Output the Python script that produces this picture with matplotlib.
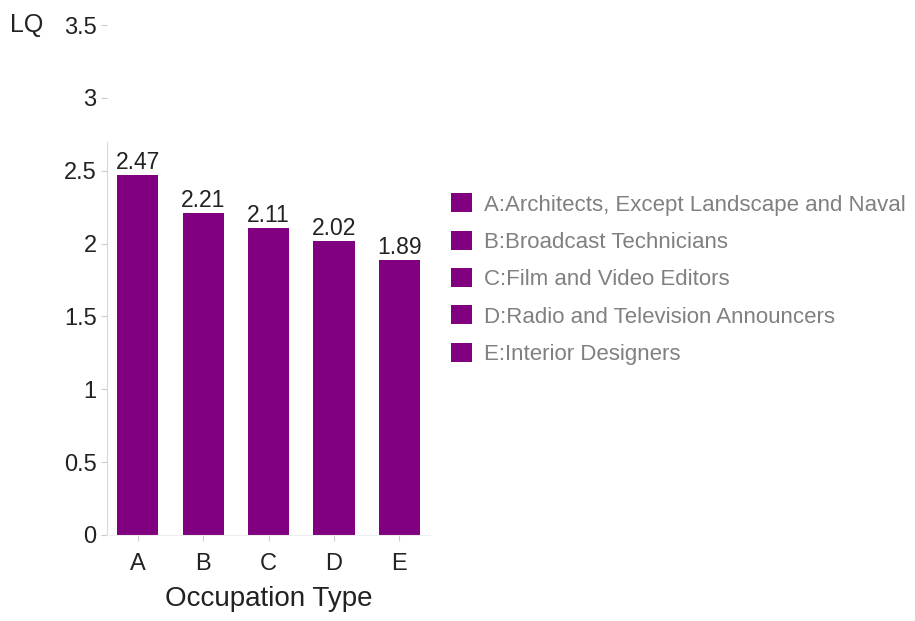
import matplotlib.pyplot as plt

plt.rcParams['font.family'] = ['Liberation Sans', 'DejaVu Sans']

# occupation codes, full names and location quotients
codes = ['A', 'B', 'C', 'D', 'E']
names = ['Architects, Except Landscape and Naval',
         'Broadcast Technicians',
         'Film and Video Editors',
         'Radio and Television Announcers',
         'Interior Designers']
lq = [2.47, 2.21, 2.11, 2.02, 1.89]
y_ticks = [0, 0.5, 1, 1.5, 2, 2.5, 3, 3.5]

fig = plt.figure(figsize=(9.15, 6.21), dpi=100)
ax = fig.add_axes([0.117, 0.1385, 0.353, 0.8212])

bar_color = '#800080'
bars = ax.bar(range(len(codes)), lq, width=0.63, color=bar_color)

# value labels on top of each bar
for i, v in enumerate(lq):
    ax.text(i, v + 0.005, f'{v:.2f}', ha='center', va='bottom',
            fontsize=16.5, color='#222222')

ax.set_xlim(-0.47, 4.47)
ax.set_ylim(0, 3.5)
ax.set_yticks(y_ticks)
ax.set_yticklabels([f'{t:g}' for t in y_ticks])
ax.set_xticks(range(len(codes)))
ax.set_xticklabels(codes)
ax.tick_params(axis='both', labelsize=17, colors='#cccccc',
               labelcolor='#222222', length=4, width=0.8)
ax.tick_params(axis='x', pad=9)

for s in ['top', 'right']:
    ax.spines[s].set_visible(False)
ax.spines['left'].set_color('#d8d8d8')
ax.spines['left'].set_bounds(0, 2.7)
ax.spines['bottom'].set_color('#eeeeee')

ax.set_xlabel('Occupation Type', fontsize=20, color='#222222', labelpad=8)
fig.text(0.011, ax.transData.transform((0, 3.5))[1] / fig.bbox.height, 'LQ',
         fontsize=18, color='#222222', va='center', ha='left')

# legend with code:name entries
leg = fig.legend(bars, [f'{c}:{n}' for c, n in zip(codes, names)],
                 loc='upper left', bbox_to_anchor=(0.483, 0.703),
                 frameon=False, fontsize=16, handlelength=0.95,
                 handleheight=0.95, handletextpad=0.55, labelspacing=0.68,
                 borderaxespad=0)
for t in leg.get_texts():
    t.set_color('#808080')

fig.savefig('out.png', dpi=100, facecolor='white')
